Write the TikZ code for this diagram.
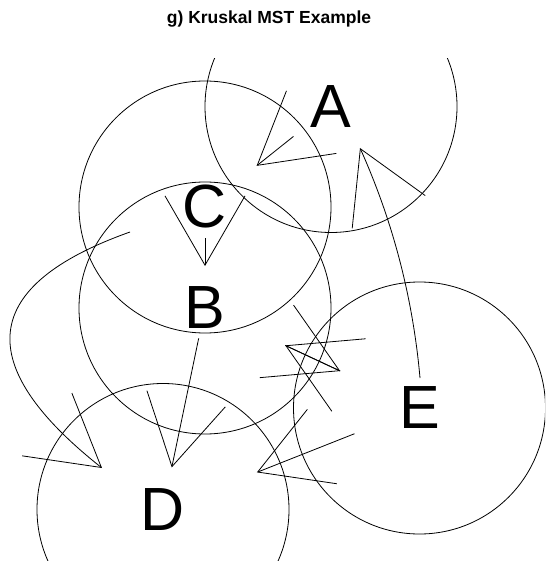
\documentclass[tikz,border=0pt]{standalone}
\usepackage{fontspec}
\setmainfont{Liberation Sans}
\usetikzlibrary{arrows.meta,calc}
\begin{document}
\begin{tikzpicture}[x=1pt,y=-1pt,
  every node/.style={inner sep=0pt},
  vtx/.style={circle,draw,minimum size=252pt,inner sep=0pt,line width=0.8pt,
    font=\fontsize{61}{70}\selectfont},
  arr/.style={line width=0.8pt,-{Straight Barb[length=69.3pt,width=80pt,sharp]}},
  ttl/.style={font=\bfseries\fontsize{17.5}{21}\selectfont,anchor=base}
]
\useasboundingbox (0,0) rectangle (545,561);
\node[ttl] (title) at (269,24) {g) Kruskal MST Example};
\begin{scope}
  \clip (0,58.5) rectangle (545,561);
  \node[vtx] (A) at (331,106.5) {A};
  \node[vtx] (C) at (205,207) {C};
  \node[vtx] (B) at (205,308) {B};
  \node[vtx] (E) at (419.5,408) {E};
  \node[vtx] (D) at (163,509.5) {D};
\end{scope}
% straight edges
\draw[arr] ($(A)!48pt!(C)$) -- ($(C)!66pt!(A)$);
\draw[arr] ($(C)!31pt!(B)$) -- ($(B)!42pt!(C)$);
\draw[arr] ($(B)!31pt!(D)$) -- ($(D)!43pt!(B)$);
\draw[arr] ($(B)!88.5pt!(E)$) -- ($(E)!87.5pt!(B)$);
\draw[arr] ($(E)!87.5pt!(B)$) -- ($(B)!88.5pt!(E)$);
\draw[arr] ($(E)!70pt!(D)$) -- ($(D)!101pt!(E)$);
% curved edges
\draw[arr] ($(E)+(0.5,-30)$) .. controls ($(E)+(-6.6,-110)$) and ($(A)+(61.9,114.8)$) .. ($(A)+(29,41.5)$);
\draw[arr] ($(C)+(-75,25)$) .. controls ($(C)+(-225,78.3)$) and ($(D)+(-192.3,-145.5)$) .. ($(D)+(-61,-41.5)$);
\end{tikzpicture}
\end{document}
